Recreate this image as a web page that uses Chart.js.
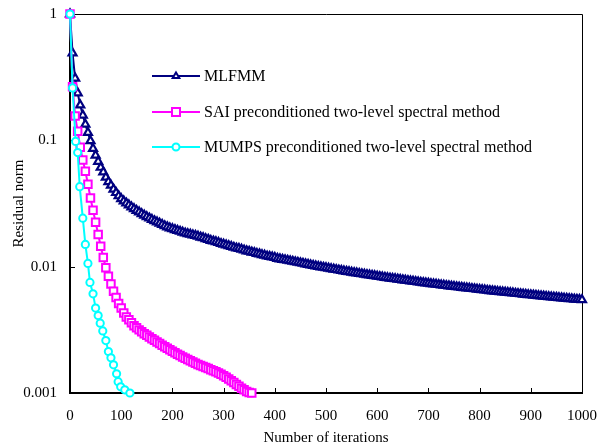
<!DOCTYPE html>
<html><head><meta charset="utf-8">
<script src="https://cdn.jsdelivr.net/npm/chart.js@4/dist/chart.umd.min.js"></script>
<style>html,body{margin:0;padding:0;background:#fff}</style>
</head><body>
<canvas id="c" width="606" height="447"></canvas>
<script>
const seriesNames = ['MLFMM', 'SAI preconditioned two-level spectral method', 'MUMPS preconditioned two-level spectral method'];
const xTicks = [0,100,200,300,400,500,600,700,800,900,1000];
const yTicks = [0.001, 0.01, 0.1, 1];
const yTickLabels = ['0.001', '0.01', '0.1', '1'];
const xTitle = 'Number of iterations';
const yTitle = 'Residual norm';

const mlfmmIter = [0,5,10,15,20,25,30,35,40,45,50,55,60,65,70,75,80,85,90,95,
 100,105,110,115,120,125,130,135,140,145,150,155,160,165,170,175,180,185,190,195,
 200,205,210,215,220,225,230,235,240,245,250,255,260,265,270,275,280,285,290,295,
 300,305,310,315,320,325,330,335,340,345,350,355,360,365,370,375,380,385,390,395,
 400,405,410,415,420,425,430,435,440,445,450,455,460,465,470,475,480,485,490,495,
 500,505,510,515,520,525,530,535,540,545,550,555,560,565,570,575,580,585,590,595,
 600,605,610,615,620,625,630,635,640,645,650,655,660,665,670,675,680,685,690,695,
 700,705,710,715,720,725,730,735,740,745,750,755,760,765,770,775,780,785,790,795,
 800,805,810,815,820,825,830,835,840,845,850,855,860,865,870,875,880,885,890,895,
 900,905,910,915,920,925,930,935,940,945,950,955,960,965,970,975,980,985,990,995,1000];
const mlfmmRes = [1,0.49,0.31,0.237,0.19,0.158,0.134,0.115,0.099,0.086,0.076,0.068,0.061,0.056,0.051,0.047,0.044,0.041,0.0385,0.0363,
 0.0344,0.0330,0.0318,0.0307,0.0296,0.0287,0.0278,0.0270,0.0262,0.0255,0.0248,0.0242,0.0236,0.0230,0.0225,0.0220,0.0215,0.0210,0.0206,0.0202,
 0.0199,0.0196,0.0193,0.0190,0.0187,0.0184,0.0182,0.0180,0.0178,0.0176,0.0174,0.0171,0.0169,0.0166,0.0164,0.0161,0.0159,0.0157,0.0155,0.0152,
 0.0150,0.0148,0.0146,0.0144,0.0142,0.0140,0.0139,0.0137,0.0135,0.0133,0.0132,0.0130,0.0129,0.0127,0.0126,0.0124,0.0123,0.0121,0.0120,0.0119,
 0.0118,0.0116,0.0115,0.0114,0.0113,0.0112,0.0111,0.0110,0.0109,0.0108,0.0107,0.0106,0.0105,0.0104,0.0103,0.0102,0.0101,0.0100,0.00994,0.00986,
 0.00978,0.00970,0.00962,0.00954,0.00946,0.00938,0.00931,0.00923,0.00916,0.00909,0.00902,0.00895,0.00889,0.00882,0.00876,0.00869,0.00863,0.00857,0.00851,0.00845,
 0.00839,0.00833,0.00827,0.00821,0.00816,0.00810,0.00805,0.00800,0.00795,0.00789,0.00784,0.00779,0.00774,0.00769,0.00765,0.00760,0.00755,0.00750,0.00746,0.00741,
 0.00737,0.00732,0.00728,0.00724,0.00720,0.00715,0.00711,0.00707,0.00703,0.00699,0.00695,0.00691,0.00688,0.00684,0.00680,0.00676,0.00673,0.00669,0.00666,0.00662,
 0.00659,0.00655,0.00652,0.00648,0.00645,0.00642,0.00639,0.00635,0.00632,0.00629,0.00626,0.00623,0.00620,0.00617,0.00614,0.00611,0.00608,0.00605,0.00602,0.00599,
 0.00597,0.00594,0.00591,0.00588,0.00586,0.00583,0.00580,0.00577,0.00575,0.00572,0.00570,0.00567,0.00565,0.00562,0.00560,0.00557,0.00555,0.00552,0.00550,0.00548,0.00546];

const saiIter = [0,5,10,15,20,25,30,35,40,45,50,55,60,65,70,75,80,85,90,95,100,
 105,110,115,120,125,130,135,140,145,150,155,160,165,170,175,180,185,190,195,200,
 205,210,215,220,225,230,235,240,245,250,255,260,265,270,275,280,285,290,295,300,
 305,310,315,320,325,330,335,340,345,350,355];
const saiRes = [1,0.265,0.156,0.118,0.088,0.070,0.057,0.045,0.035,0.028,0.0225,0.018,0.0145,0.0118,0.0098,0.0084,0.0073,0.0064,0.0057,0.0051,0.0047,
 0.0043,0.0040,0.0038,0.0036,0.0034,0.00328,0.00316,0.00305,0.00295,0.00286,0.00277,0.00269,0.00261,0.00253,0.00246,0.00239,0.00232,0.00226,0.0022,0.00214,
 0.00208,0.00203,0.00198,0.00193,0.00188,0.00184,0.0018,0.00176,0.00172,0.00168,0.00165,0.00162,0.00159,0.00156,0.00153,0.0015,0.00147,0.00144,0.00141,0.00137,
 0.00133,0.00129,0.00125,0.00121,0.00117,0.00113,0.00109,0.00106,0.00103,0.00101,0.001];

const mumpsIter = [0,5,11,15,19,25,30,35,39,45,50,55,59,64,70,75,80,85,91,94,99,107,117];
const mumpsRes = [1,0.26,0.098,0.080,0.043,0.0242,0.0150,0.0106,0.0075,0.0061,0.0047,0.0041,0.00357,0.0031,0.0026,0.00213,0.0019,0.00167,0.00142,0.00123,0.00112,0.00106,0.001];

const colors = ['#000080', '#FF00FF', '#00FFFF'];
const FONT = 'Liberation Serif, Times New Roman, serif';

function pts(xs, ys) { return xs.map((x, i) => ({x: x, y: ys[i]})); }

function drawMarker(ctx, style, x, y, r, color) {
  ctx.save();
  ctx.strokeStyle = color; ctx.fillStyle = '#fff'; ctx.lineWidth = 2;
  ctx.beginPath();
  if (style === 'triangle') {
    ctx.moveTo(x, y - r); ctx.lineTo(x + r * 0.95, y + r * 0.6); ctx.lineTo(x - r * 0.95, y + r * 0.6); ctx.closePath();
  } else if (style === 'rect') {
    ctx.rect(x - r, y - r, 2 * r, 2 * r);
  } else {
    ctx.arc(x, y, r, 0, Math.PI * 2);
  }
  ctx.fill(); ctx.stroke();
  ctx.restore();
}

const framePlugin = {
  id: 'frame',
  beforeDatasetsDraw(chart) {
    const {ctx, chartArea: a, scales} = chart;
    ctx.save();
    ctx.strokeStyle = '#000';
    ctx.lineWidth = 1;
    ctx.beginPath();
    ctx.moveTo(a.left, a.top + 0.5); ctx.lineTo(a.right + 0.5, a.top + 0.5); ctx.lineTo(a.right + 0.5, a.bottom);
    ctx.stroke();
    ctx.lineWidth = 2;
    ctx.beginPath();
    ctx.moveTo(a.left, a.top); ctx.lineTo(a.left, a.bottom); ctx.lineTo(a.right + 1, a.bottom);
    ctx.stroke();
    ctx.lineWidth = 1;
    ctx.beginPath();
    xTicks.forEach(v => { const px = Math.round(scales.x.getPixelForValue(v)) + 0.5; ctx.moveTo(px, a.bottom); ctx.lineTo(px, a.bottom - 5); });
    yTicks.forEach(v => { const py = Math.round(scales.y.getPixelForValue(v)) + 0.5; ctx.moveTo(a.left, py); ctx.lineTo(a.left + 5, py); });
    ctx.stroke();
    ctx.restore();
  },
  afterDraw(chart) {
    const ctx = chart.ctx;
    const styles = ['triangle', 'rect', 'circle'];
    const rows = [76, 112, 147];
    ctx.save();
    seriesNames.forEach((name, i) => {
      const y = rows[i];
      ctx.strokeStyle = colors[i]; ctx.lineWidth = 2;
      ctx.beginPath(); ctx.moveTo(152, y); ctx.lineTo(200, y); ctx.stroke();
      drawMarker(ctx, styles[i], 176, y, i === 1 ? 4 : 3.5, colors[i]);
      ctx.fillStyle = '#000';
      ctx.font = '16px ' + FONT;
      ctx.textBaseline = 'middle';
      ctx.textAlign = 'left';
      ctx.fillText(name, 204, y + 1);
    });
    ctx.restore();
  }
};

const ds = (label, data, color, style, radius, order, bw) => ({
  label, data, borderColor: color, backgroundColor: '#fff',
  pointStyle: style, pointRadius: radius, pointBorderWidth: bw,
  pointBackgroundColor: '#fff', pointBorderColor: color,
  borderWidth: 2, tension: 0, clip: false, order
});

new Chart(document.getElementById('c'), {
  type: 'line',
  data: {
    datasets: [
      ds(seriesNames[0], pts(mlfmmIter, mlfmmRes), colors[0], 'triangle', 4.6, 3, 2.2),
      ds(seriesNames[1], pts(saiIter, saiRes), colors[1], 'rect', 5.3, 2, 2),
      ds(seriesNames[2], pts(mumpsIter, mumpsRes), colors[2], 'circle', 3.6, 1, 2)
    ]
  },
  options: {
    responsive: false, animation: false, devicePixelRatio: 1,
    layout: {padding: {top: 14, right: 24, left: 0, bottom: 0}},
    plugins: {legend: {display: false}, tooltip: {enabled: false}},
    scales: {
      x: {
        type: 'linear', min: 0, max: 1000,
        afterBuildTicks(s) { s.ticks = xTicks.map(v => ({value: v})); },
        ticks: {font: {family: FONT, size: 15}, color: '#000', padding: 14, maxRotation: 0, autoSkip: false,
          callback: (v) => String(v)},
        grid: {display: false, drawTicks: false},
        border: {display: false},
        title: {display: true, text: xTitle, color: '#000', font: {family: FONT, size: 15}, padding: {top: 0, bottom: 0}},
        afterFit(s) { s.height = 54; s.paddingLeft = 0; s.paddingRight = 0; }
      },
      y: {
        type: 'logarithmic', min: 0.001, max: 1,
        afterBuildTicks(s) { s.ticks = yTicks.map(v => ({value: v})); },
        ticks: {font: {family: FONT, size: 15}, color: '#000', padding: 13, autoSkip: false,
          callback: (v) => yTickLabels[yTicks.indexOf(v)] },
        grid: {display: false, drawTicks: false},
        border: {display: false},
        title: {display: true, text: yTitle, color: '#000', font: {family: FONT, size: 15}, padding: {top: 10, bottom: 0}},
        afterFit(s) { s.width = 70; s.paddingTop = 0; s.paddingBottom = 0; }
      }
    }
  },
  plugins: [framePlugin]
});
</script>
</body></html>
